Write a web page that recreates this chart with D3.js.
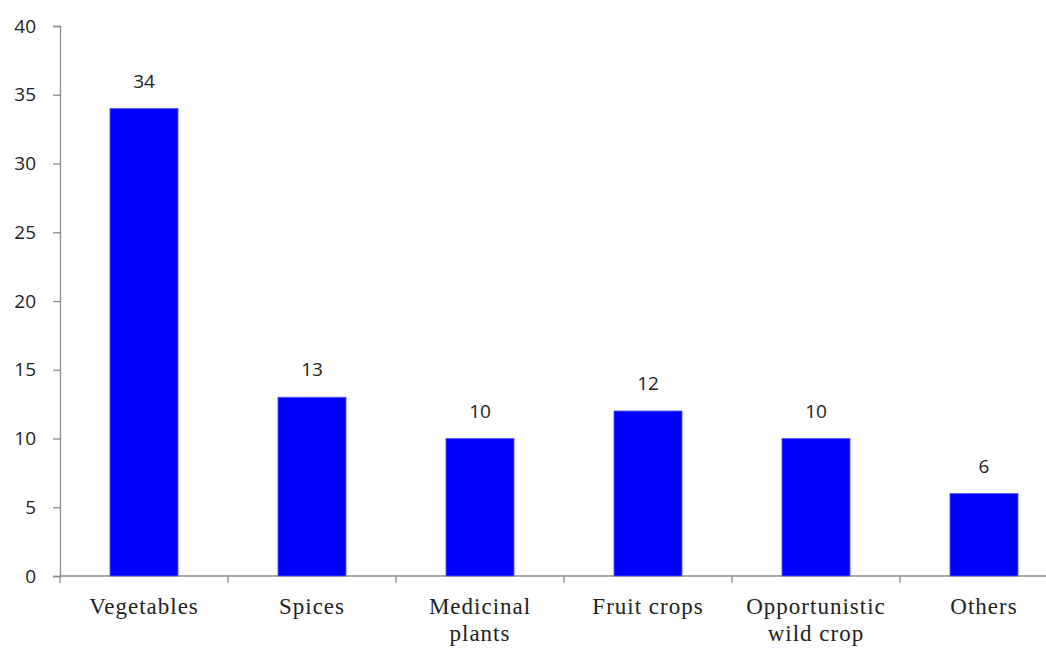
<!DOCTYPE html>
<html>
<head>
<meta charset="utf-8">
<script src="https://cdn.jsdelivr.net/npm/d3@7"></script>
<style>
  body { margin: 0; background: #fff; }
</style>
</head>
<body>
<div id="chart"></div>
<script>
var categories = [["Vegetables"], ["Spices"], ["Medicinal", "plants"], ["Fruit crops"],
                  ["Opportunistic", "wild crop"], ["Others"]];
var values = [34, 13, 10, 12, 10, 6];
var yTicks = [0, 5, 10, 15, 20, 25, 30, 35, 40];

var width = 1046, height = 648;
var margin = {top: 26, left: 60};
var plotBottom = 576;

var svg = d3.select("#chart")
  .append("svg")
    .attr("width", width)
    .attr("height", height);

var keys = categories.map(function(c) { return c.join(" "); });

// one band per category, 168px step; axis runs off the right edge
var x = d3.scaleBand()
    .domain(keys)
    .range([margin.left, margin.left + 168 * keys.length])
    .paddingInner(0.595)
    .paddingOuter(0.2975);

var y = d3.scaleLinear()
    .domain([0, 40])
    .range([plotBottom, margin.top]);

// y axis
var yAxis = svg.append("g")
    .attr("transform", "translate(" + margin.left + ",0)")
    .call(d3.axisLeft(y).tickValues(yTicks).tickSize(7).tickPadding(17));
yAxis.select(".domain").attr("stroke", "#8c8c8c").attr("stroke-width", 1.3);
yAxis.selectAll(".tick line").attr("stroke", "#8c8c8c").attr("stroke-width", 1.3);
yAxis.selectAll(".tick text")
    .style("font-family", "'Open Sans', 'DejaVu Sans', sans-serif")
    .style("font-size", "19px")
    .attr("fill", "#222");

// x axis line with ticks at band boundaries
var step = x.step();
var bounds = d3.range(keys.length + 1).map(function(i) { return margin.left + i * step; });
svg.append("line")
    .attr("x1", margin.left).attr("x2", width)
    .attr("y1", plotBottom).attr("y2", plotBottom)
    .attr("stroke", "#8c8c8c").attr("stroke-width", 1.3);
svg.append("g").selectAll("line")
  .data(bounds)
  .enter().append("line")
    .attr("x1", function(d) { return d; }).attr("x2", function(d) { return d; })
    .attr("y1", plotBottom).attr("y2", plotBottom + 7)
    .attr("stroke", "#8c8c8c").attr("stroke-width", 1.3);

// bars
svg.append("g").selectAll("rect")
  .data(values)
  .enter().append("rect")
    .attr("x", function(d, i) { return x(keys[i]); })
    .attr("y", function(d) { return y(d); })
    .attr("width", x.bandwidth())
    .attr("height", function(d) { return y(0) - y(d); })
    .attr("fill", "#0000ff")
    .attr("stroke", "#5a5aff")
    .attr("stroke-width", 0.8);

// value labels
svg.append("g").selectAll("text")
  .data(values)
  .enter().append("text")
    .attr("x", function(d, i) { return x(keys[i]) + x.bandwidth() / 2; })
    .attr("y", function(d) { return y(d) - 21; })
    .attr("text-anchor", "middle")
    .style("font-family", "'Open Sans', 'DejaVu Sans', sans-serif")
    .style("font-size", "19px")
    .attr("fill", "#222")
    .text(function(d) { return d; });

// category labels
var catLabels = svg.append("g").selectAll("text")
  .data(categories)
  .enter().append("text")
    .attr("x", function(d, i) { return x(keys[i]) + x.bandwidth() / 2; })
    .attr("y", 614)
    .attr("text-anchor", "middle")
    .style("font-family", "'Liberation Serif', 'Times New Roman', serif")
    .style("font-size", "23px")
    .style("letter-spacing", "1px")
    .attr("fill", "#222");
catLabels.selectAll("tspan")
  .data(function(d) { return d; })
  .enter().append("tspan")
    .attr("x", function() { return d3.select(this.parentNode).attr("x"); })
    .attr("dy", function(d, i) { return i === 0 ? 0 : 27; })
    .text(function(d) { return d; });
</script>
</body>
</html>
